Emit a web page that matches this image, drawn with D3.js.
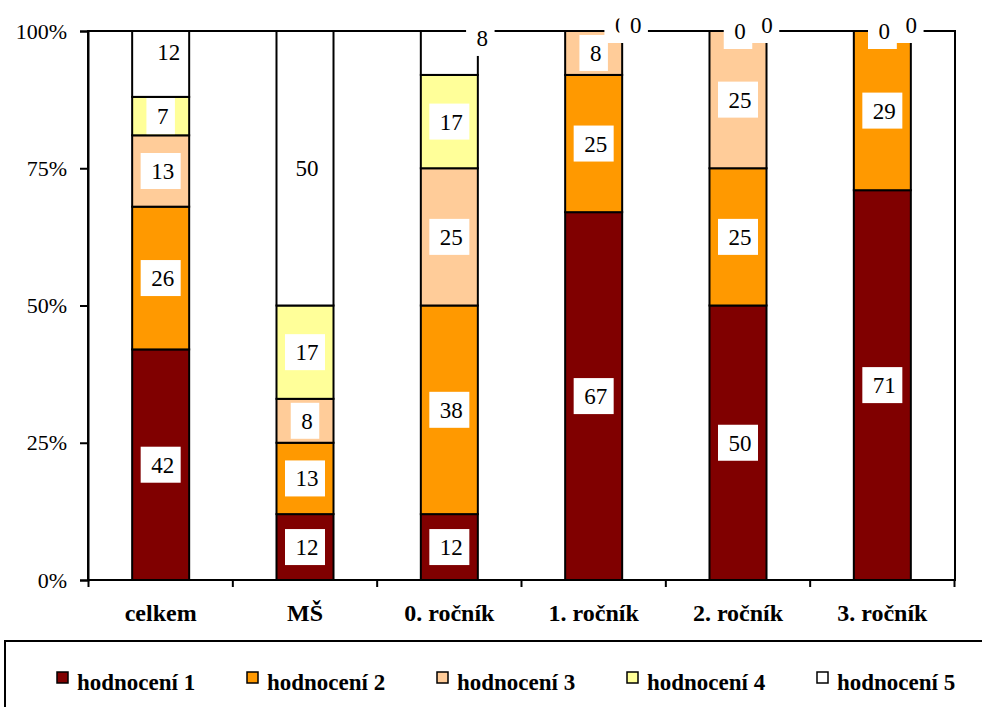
<!DOCTYPE html>
<html>
<head>
<meta charset="utf-8">
<script src="https://cdn.jsdelivr.net/npm/d3@7"></script>
<style>
  html, body { margin: 0; padding: 0; background: #fff; }
  svg { display: block; }
  text { font-family: "Liberation Serif", Tinos, "Times New Roman", "DejaVu Serif", "Noto Serif", FreeSerif, serif; fill: #000; }
</style>
</head>
<body>
<svg id="chart" width="982" height="707"></svg>
<script>
// Categories (x axis)
const categories = ["celkem", "MŠ", "0. ročník", "1. ročník", "2. ročník", "3. ročník"];

// Series names (legend) and their values per category, in percent
const seriesNames = ["hodnocení 1", "hodnocení 2", "hodnocení 3", "hodnocení 4", "hodnocení 5"];
const hodnoceni1 = [42, 12, 12, 67, 50, 71];
const hodnoceni2 = [26, 13, 38, 25, 25, 29];
const hodnoceni3 = [13,  8, 25,  8, 25,  0];
const hodnoceni4 = [ 7, 17, 17,  0,  0,  0];
const hodnoceni5 = [12, 50,  8,  0,  0,  0];

// Y axis tick values
const yTicks = [0, 25, 50, 75, 100];

const seriesColors = ["#800000", "#FF9900", "#FFCC99", "#FFFF99", "#FFFFFF"];
const FONT = "'Liberation Serif', Tinos, 'Times New Roman', 'DejaVu Serif', 'Noto Serif', FreeSerif, serif";

// Data labels that are shifted so they do not sit on top of each other
const labelNudge = {
  "celkem|hodnocení 5": [6, -12],
  "0. ročník|hodnocení 5": [31, -15],
  "1. ročník|hodnocení 4": [25, -6],
  "1. ročník|hodnocení 5": [40, -6],
  "2. ročník|hodnocení 5": [27, -6],
  "3. ročník|hodnocení 5": [27, -6]
};

const seriesValues = [hodnoceni1, hodnoceni2, hodnoceni3, hodnoceni4, hodnoceni5];
const rows = categories.map((c, i) => {
  const r = { category: c };
  seriesNames.forEach((s, k) => { r[s] = seriesValues[k][i]; });
  return r;
});

const svg = d3.select("#chart");
const plot = { left: 88, right: 955, top: 31, bottom: 580 };

const x = d3.scaleBand()
  .domain(categories)
  .range([plot.left + 0.5, plot.right - 0.5])
  .paddingInner(0.605)
  .paddingOuter(0.3025);

const y = d3.scaleLinear().domain([0, 100]).range([plot.bottom, plot.top]);

const stacked = d3.stack().keys(seriesNames)(rows);

// Plot area frame
svg.append("rect")
  .attr("x", plot.left).attr("y", plot.top)
  .attr("width", plot.right - plot.left).attr("height", plot.bottom - plot.top)
  .attr("fill", "none").attr("stroke", "#000").attr("stroke-width", 2);

// Stacked bars
const layers = svg.append("g").selectAll("g")
  .data(stacked)
  .join("g")
  .attr("fill", (d, i) => seriesColors[i]);

layers.selectAll("rect")
  .data(d => d.map(p => ({ p, key: d.key })))
  .join("rect")
  .attr("x", d => x(d.p.data.category))
  .attr("y", d => y(d.p[1]))
  .attr("width", x.bandwidth())
  .attr("height", d => y(d.p[0]) - y(d.p[1]))
  .attr("stroke", "#000")
  .attr("stroke-width", 2);

// Y axis
const yAxis = svg.append("g")
  .attr("transform", `translate(${plot.left},0)`)
  .call(d3.axisLeft(y).tickValues(yTicks).tickFormat(d => d + "%").tickSize(8).tickPadding(13));
yAxis.attr("font-family", FONT);
yAxis.select(".domain").attr("stroke", "#000").attr("stroke-width", 2);
yAxis.selectAll(".tick line").attr("stroke", "#000").attr("stroke-width", 2);
yAxis.selectAll(".tick text")
  .style("font-family", FONT)
  .attr("font-size", 22)
  .attr("fill", "#000");

// X axis: labels at band centres, tick marks at band boundaries
const xAxis = svg.append("g")
  .attr("transform", `translate(0,${plot.bottom})`)
  .call(d3.axisBottom(x).tickSize(0).tickPadding(24));
xAxis.attr("font-family", FONT);
xAxis.select(".domain").remove();
xAxis.selectAll(".tick text")
  .style("font-family", FONT)
  .attr("font-size", 24)
  .attr("font-weight", "bold")
  .attr("fill", "#000");

const step = x.step();
const boundaries = categories.map(c => x(c) - (step - x.bandwidth()) / 2)
  .concat([x(categories[categories.length - 1]) + x.bandwidth() + (step - x.bandwidth()) / 2]);
svg.append("line")
  .attr("x1", plot.left - 1).attr("x2", plot.right + 1)
  .attr("y1", plot.bottom).attr("y2", plot.bottom)
  .attr("stroke", "#000").attr("stroke-width", 2);
svg.append("g").selectAll("line")
  .data(boundaries)
  .join("line")
  .attr("x1", d => d).attr("x2", d => d)
  .attr("y1", plot.bottom).attr("y2", plot.bottom + 7)
  .attr("stroke", "#000").attr("stroke-width", 2);

// Data labels: value in a white box at the middle of each segment
const labelGroup = svg.append("g");
stacked.forEach(layer => {
  layer.forEach(p => {
    const value = p.data[layer.key];
    const nudge = labelNudge[p.data.category + "|" + layer.key] || [0, 0];
    const cx = x(p.data.category) + x.bandwidth() / 2 + nudge[0];
    const cy = (y(p[0]) + y(p[1])) / 2 + nudge[1];
    const g = labelGroup.append("g").attr("transform", `translate(${cx},${cy})`);
    const rect = g.append("rect").attr("fill", "#fff");
    const t = g.append("text")
      .attr("text-anchor", "middle")
      .attr("dy", "0.35em")
      .attr("x", 2)
      .style("font-family", FONT)
      .attr("font-size", 23)
      .text(value);
    const w = t.node().getComputedTextLength() + 17;
    rect.attr("x", -w / 2).attr("y", -18).attr("width", w).attr("height", 36);
  });
});

// Legend
const legend = svg.append("g");
legend.append("rect")
  .attr("x", 5).attr("y", 641)
  .attr("width", 1000).attr("height", 100)
  .attr("fill", "none").attr("stroke", "#000").attr("stroke-width", 2);

const legendX = d3.scalePoint().domain(seriesNames).range([57, 817]);
const items = legend.selectAll("g.item")
  .data(seriesNames)
  .join("g")
  .attr("class", "item")
  .attr("transform", d => `translate(${legendX(d)},0)`);
items.append("rect")
  .attr("x", 0).attr("y", 672)
  .attr("width", 11).attr("height", 11)
  .attr("fill", (d, i) => seriesColors[i])
  .attr("stroke", "#000").attr("stroke-width", 1.5);
items.append("text")
  .attr("x", 20).attr("y", 690)
  .style("font-family", FONT)
  .attr("font-size", 23)
  .attr("font-weight", "bold")
  .text(d => d);
</script>
</body>
</html>
